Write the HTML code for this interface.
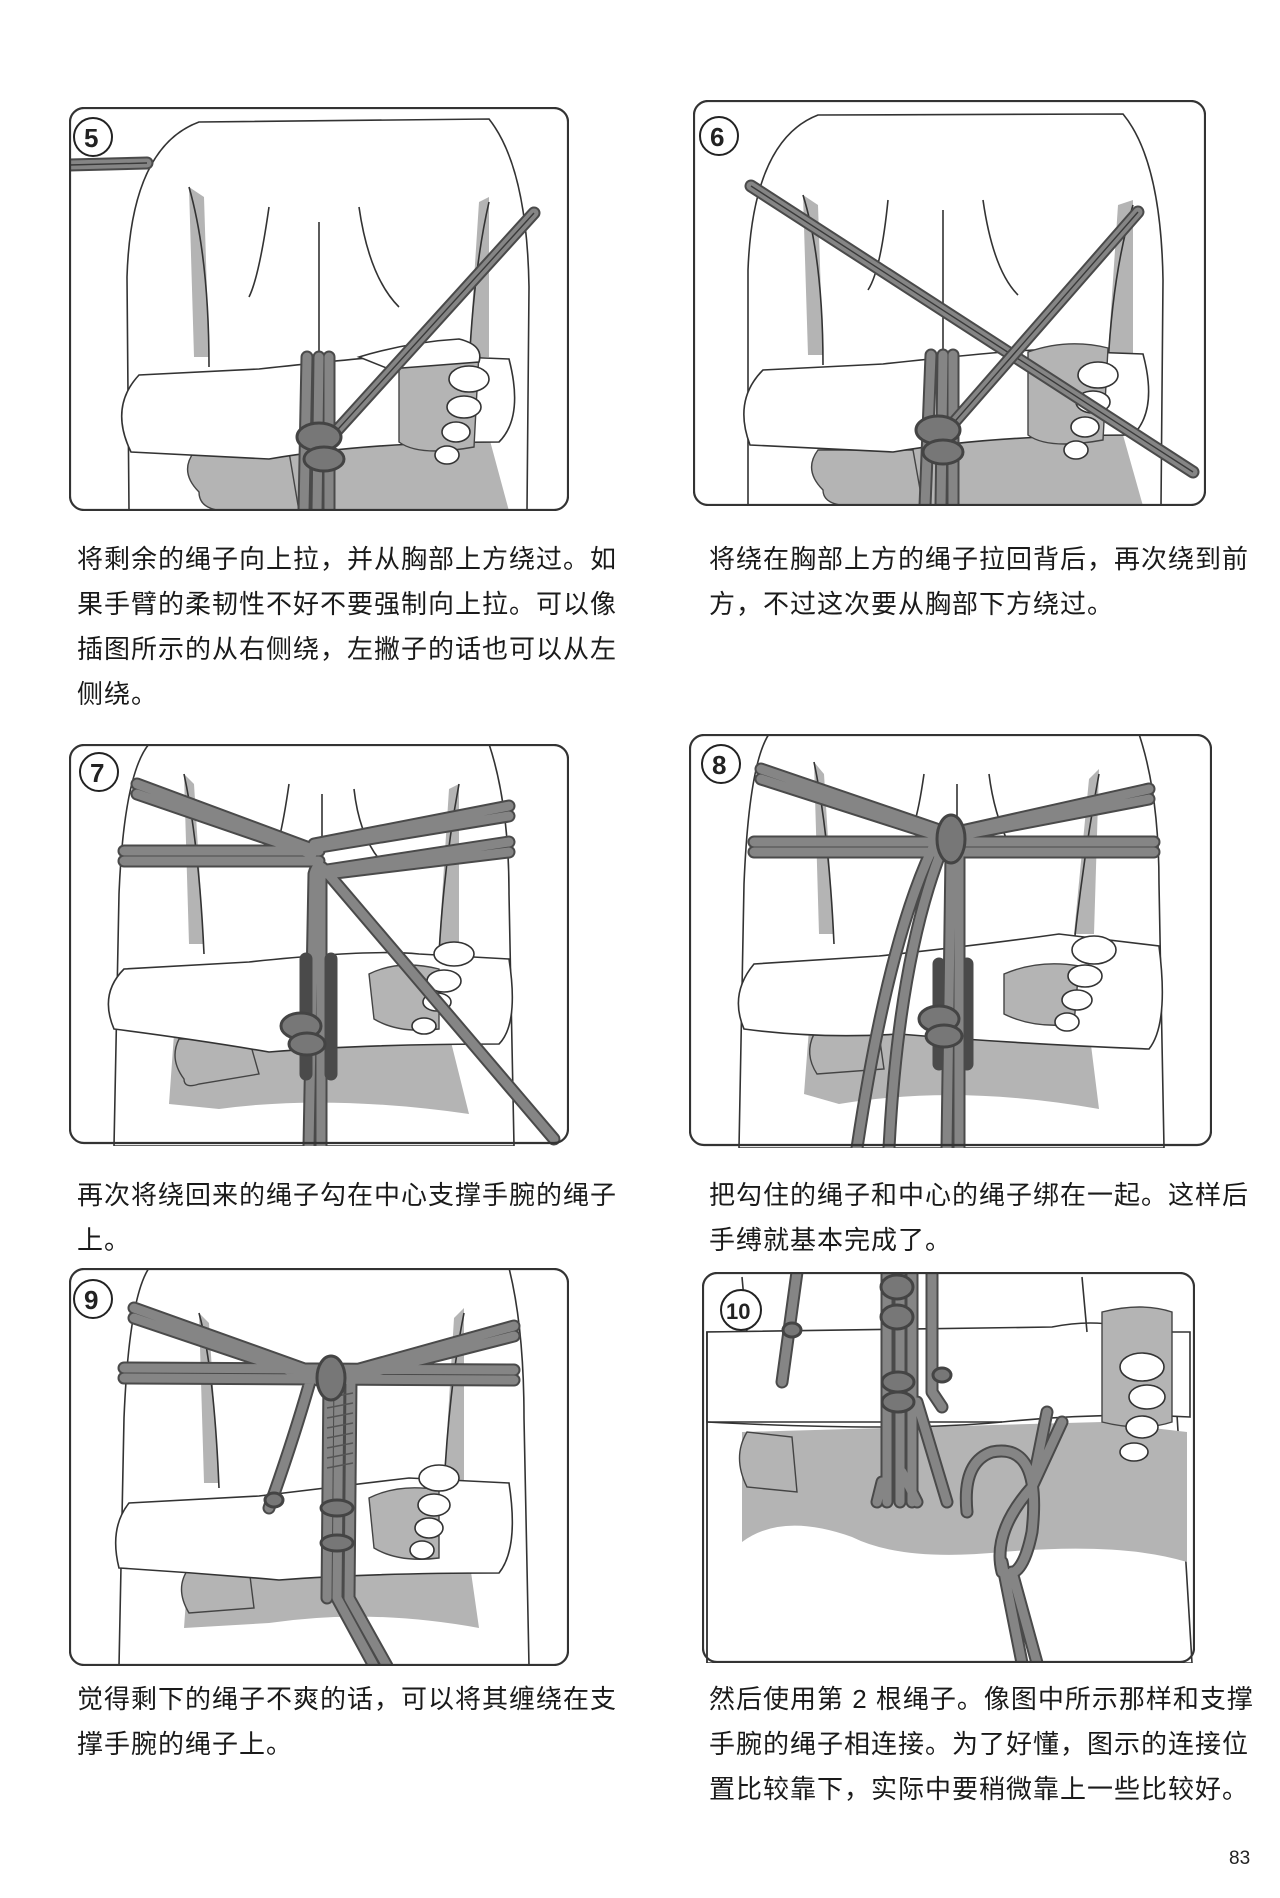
<!DOCTYPE html>
<html><head><meta charset="utf-8"><style>
body{margin:0;background:#fff;}
#p{position:relative;width:1280px;height:1898px;overflow:hidden;background:#fff;font-family:"Liberation Sans","Noto Sans CJK SC",sans-serif;}
svg.pn{position:absolute;}
.cap{position:absolute;font-size:26px;line-height:45px;color:#1a1a1a;letter-spacing:1px;white-space:nowrap;}
.o{fill:none;stroke:#333;stroke-width:1.6;}
.w{fill:#fff;stroke:#333;stroke-width:1.6;}
.g{fill:#b4b4b4;stroke:none;}
.gh{fill:#b4b4b4;stroke:#444;stroke-width:1.4;}
.r{fill:none;stroke:#4a4a4a;stroke-width:13;stroke-linecap:round;stroke-linejoin:round;}
.ri{fill:none;stroke:#858585;stroke-width:9;stroke-linecap:round;stroke-linejoin:round;}
.rc{fill:none;stroke:#3a3a3a;stroke-width:1.4;}
.frame{fill:none;stroke:#333;stroke-width:2.2;}
.num{font-family:"Liberation Sans",sans-serif;font-weight:bold;font-size:26px;fill:#222;}
</style></head><body><div id="p">

<!-- Panel 5 -->
<svg class="pn" style="left:69px;top:107px" width="500" height="404" viewBox="0 0 500 404">
<path class="w" d="M60,404 L58,170 Q62,40 130,15 L420,12 Q458,60 460,180 L458,404Z"/>
<path class="g" d="M120,80 L135,90 L140,250 L125,250Z M420,90 L410,95 L400,250 L420,250Z"/>
<path class="o" d="M120,80 Q140,150 140,260 M420,95 Q405,160 400,260 M200,100 Q190,170 180,190 M250,115 L250,260 M290,100 Q300,170 330,200"/>
<path class="g" d="M150,330 L420,330 L440,404 L170,404Z"/>
<path class="gh" d="M125,345 Q110,365 130,385 Q130,404 160,404 L230,404 L220,345Z"/>
<path class="w" d="M62,345 Q40,300 70,268 L190,262 Q300,250 340,248 L440,252 Q455,310 430,335 Q300,335 200,352 Z"/>
<path class="gh" d="M330,250 Q370,235 410,245 L405,340 Q350,350 330,335Z"/>
<path class="w" d="M290,250 Q340,235 390,232 Q415,238 410,255 L320,262Z"/>
<ellipse class="w" cx="400" cy="272" rx="20" ry="13"/><ellipse class="w" cx="395" cy="300" rx="17" ry="11"/><ellipse class="w" cx="387" cy="325" rx="14" ry="10"/><ellipse class="w" cx="378" cy="348" rx="12" ry="9"/>
<g><path class="r" d="M0,58 L78,56"/><path class="ri" d="M0,58 L78,56"/><path class="rc" d="M0,58 L78,56"/></g>
<g><path class="r" d="M235,404 L238,250 M248,404 L250,250 M260,404 L260,250"/><path class="ri" d="M235,404 L238,250 M248,404 L250,250 M260,404 L260,250"/></g>
<g><path class="r" d="M262,330 L465,106"/><path class="ri" d="M262,330 L465,106"/><path class="rc" d="M262,330 L465,106"/></g>
<ellipse cx="250" cy="330" rx="22" ry="14" fill="#777" stroke="#444" stroke-width="3"/><ellipse cx="255" cy="352" rx="20" ry="12" fill="#777" stroke="#444" stroke-width="3"/>
<rect class="frame" x="1" y="1" width="498" height="402" rx="14"/>
<circle cx="24" cy="30" r="19" fill="#fff" stroke="#222" stroke-width="2"/><text class="num" x="15" y="40">5</text>
</svg>

<!-- Panel 6 -->
<svg class="pn" style="left:693px;top:100px" width="513" height="406" viewBox="0 0 513 406">
<path class="w" d="M55,406 L55,170 Q60,40 125,15 L430,14 Q468,60 470,180 L468,406Z"/>
<path class="g" d="M110,95 L125,105 L130,255 L115,255Z M440,100 L425,105 L415,255 L440,255Z"/>
<path class="o" d="M110,95 Q130,160 130,265 M440,105 Q420,170 415,265 M195,100 Q188,170 175,190 M250,110 L250,265 M290,100 Q300,170 325,195"/>
<path class="g" d="M150,335 L430,335 L450,406 L170,406Z"/>
<path class="gh" d="M125,350 Q110,370 130,390 Q130,406 160,406 L230,406 L220,350Z"/>
<path class="w" d="M57,345 Q40,300 70,270 L190,264 Q300,252 340,250 L450,254 Q465,310 440,335 Q300,335 200,352 Z"/>
<path class="gh" d="M335,252 Q375,238 415,248 L410,340 Q355,350 335,335Z"/>
<ellipse class="w" cx="405" cy="275" rx="20" ry="13"/><ellipse class="w" cx="400" cy="302" rx="17" ry="11"/><ellipse class="w" cx="392" cy="327" rx="14" ry="10"/><ellipse class="w" cx="383" cy="350" rx="12" ry="9"/>
<g><path class="r" d="M232,406 L238,255 M248,406 L250,255 M260,406 L260,255"/><path class="ri" d="M232,406 L238,255 M248,406 L250,255 M260,406 L260,255"/></g>
<g><path class="r" d="M58,86 L500,372"/><path class="ri" d="M58,86 L500,372"/><path class="rc" d="M58,86 L500,372"/></g>
<g><path class="r" d="M250,335 L445,112"/><path class="ri" d="M250,335 L445,112"/><path class="rc" d="M250,335 L445,112"/></g>
<ellipse cx="245" cy="330" rx="22" ry="14" fill="#777" stroke="#444" stroke-width="3"/><ellipse cx="250" cy="352" rx="20" ry="12" fill="#777" stroke="#444" stroke-width="3"/>
<rect class="frame" x="1" y="1" width="511" height="404" rx="14"/>
<circle cx="26" cy="36" r="19" fill="#fff" stroke="#222" stroke-width="2"/><text class="num" x="17" y="46">6</text>
</svg>

<div class="cap" style="left:77px;top:537px">将剩余的绳子向上拉，并从胸部上方绕过。如<br>果手臂的柔韧性不好不要强制向上拉。可以像<br>插图所示的从右侧绕，左撇子的话也可以从左<br>侧绕。</div>
<div class="cap" style="left:709px;top:537px">将绕在胸部上方的绳子拉回背后，再次绕到前<br>方，不过这次要从胸部下方绕过。</div>

<!-- Panel 7 -->
<svg class="pn" style="left:69px;top:744px" width="500" height="402" viewBox="0 0 500 402">
<path class="w" d="M45,402 L50,150 Q55,30 80,0 L420,0 Q440,60 440,150 L445,402Z"/>
<path class="g" d="M115,30 L125,40 L135,200 L120,200Z M390,40 L380,45 L370,200 L390,200Z"/>
<path class="o" d="M115,30 Q130,100 135,210 M390,40 Q375,120 370,210 M220,40 Q215,75 210,95 M253,50 L253,215 M285,45 Q290,90 310,115"/>
<path class="g" d="M105,290 L380,290 L400,370 Q260,350 150,365 L100,360Z"/>
<path class="gh" d="M110,295 Q100,315 115,335 Q115,345 130,340 L190,330 L180,295Z"/>
<path class="w" d="M45,285 Q30,250 55,225 L180,218 Q300,205 350,210 L440,215 Q450,280 430,300 Q300,300 200,308 Q130,296 45,285Z"/>
<path class="gh" d="M300,230 Q330,215 370,225 L370,285 Q330,290 305,275Z"/>
<ellipse class="w" cx="385" cy="210" rx="20" ry="12"/><ellipse class="w" cx="375" cy="237" rx="17" ry="11"/><ellipse class="w" cx="368" cy="258" rx="14" ry="9"/><ellipse class="w" cx="355" cy="282" rx="12" ry="8"/>
<g>
<path class="r" d="M68,40 L243,105 M68,50 L243,110 M55,107 L250,107 M55,117 L250,117 M245,100 L440,62 M245,104 L440,72 M258,130 L440,108 M258,126 L440,98 M240,402 L245,130 Q248,118 255,125 L485,395 M252,402 L252,130"/>
<path class="ri" d="M68,40 L243,105 M68,50 L243,110 M55,107 L250,107 M55,117 L250,117 M245,100 L440,62 M245,104 L440,72 M258,130 L440,108 M258,126 L440,98 M240,402 L245,130 Q248,118 255,125 L485,395 M252,402 L252,130"/>
<path class="r" d="M237,215 L237,330 M262,215 L262,330"/>
</g>
<ellipse cx="232" cy="282" rx="20" ry="13" fill="#777" stroke="#444" stroke-width="3"/><ellipse cx="238" cy="300" rx="18" ry="11" fill="#777" stroke="#444" stroke-width="3"/>
<rect class="frame" x="1" y="1" width="498" height="398" rx="14"/>
<circle cx="30" cy="28" r="19" fill="#fff" stroke="#222" stroke-width="2"/><text class="num" x="21" y="38">7</text>
</svg>

<!-- Panel 8 -->
<svg class="pn" style="left:689px;top:734px" width="523" height="414" viewBox="0 0 523 414">
<path class="w" d="M50,414 L55,150 Q60,30 80,0 L450,0 Q470,60 470,150 L475,414Z"/>
<path class="g" d="M125,28 L135,40 L145,200 L130,200Z M410,35 L400,45 L385,200 L405,200Z"/>
<path class="o" d="M125,28 Q140,100 145,210 M410,40 Q395,120 385,210 M235,40 Q230,75 225,90 M268,50 L268,215 M300,40 Q305,80 320,110"/>
<path class="g" d="M120,295 L400,295 L410,375 Q270,350 150,370 L115,360Z"/>
<path class="gh" d="M125,300 Q115,320 128,340 L195,335 L190,300Z"/>
<path class="w" d="M55,295 Q40,260 65,230 L190,222 Q300,210 370,200 L470,212 Q480,290 460,315 Q330,310 210,300 Q130,305 55,295Z"/>
<path class="gh" d="M315,240 Q350,225 390,232 L385,290 Q345,295 315,280Z"/>
<ellipse class="w" cx="405" cy="216" rx="22" ry="14"/><ellipse class="w" cx="396" cy="242" rx="17" ry="11"/><ellipse class="w" cx="388" cy="266" rx="15" ry="10"/><ellipse class="w" cx="378" cy="288" rx="12" ry="9"/>
<g>
<path class="r" d="M72,35 L262,100 M72,45 L262,106 M65,108 L465,108 M65,118 L465,118 M268,98 L460,55 M268,102 L460,65 M200,414 Q210,220 255,110 M168,414 Q200,200 248,105 M258,414 L262,120 M270,414 L270,120 M250,230 L250,330 M278,230 L278,330"/>
<path class="ri" d="M72,35 L262,100 M72,45 L262,106 M65,108 L465,108 M65,118 L465,118 M268,98 L460,55 M268,102 L460,65 M200,414 Q210,220 255,110 M168,414 Q200,200 248,105 M258,414 L262,120 M270,414 L270,120"/>
</g>
<ellipse cx="262" cy="105" rx="14" ry="24" fill="#777" stroke="#444" stroke-width="3"/>
<ellipse cx="250" cy="285" rx="20" ry="13" fill="#777" stroke="#444" stroke-width="3"/><ellipse cx="255" cy="302" rx="18" ry="11" fill="#777" stroke="#444" stroke-width="3"/>
<rect class="frame" x="1" y="1" width="521" height="410" rx="14"/>
<circle cx="32" cy="30" r="19" fill="#fff" stroke="#222" stroke-width="2"/><text class="num" x="23" y="40">8</text>
</svg>

<div class="cap" style="left:77px;top:1173px">再次将绕回来的绳子勾在中心支撑手腕的绳子<br>上。</div>
<div class="cap" style="left:709px;top:1173px">把勾住的绳子和中心的绳子绑在一起。这样后<br>手缚就基本完成了。</div>

<!-- Panel 9 -->
<svg class="pn" style="left:69px;top:1268px" width="500" height="398" viewBox="0 0 500 398">
<path class="w" d="M50,398 L55,150 Q60,30 80,0 L440,0 Q455,60 455,150 L460,398Z"/>
<path class="g" d="M130,45 L140,55 L150,215 L135,215Z M395,40 L385,50 L375,215 L395,215Z"/>
<path class="o" d="M130,45 Q145,100 150,220 M395,45 Q380,120 375,220"/>
<path class="g" d="M120,290 L400,290 L410,360 Q300,340 200,355 L115,360Z"/>
<path class="gh" d="M120,300 Q105,320 120,345 L185,340 L180,300Z"/>
<path class="w" d="M50,300 Q40,260 60,235 L190,228 Q300,215 340,210 L440,215 Q450,280 430,305 Q300,305 210,312 Q130,305 50,300Z"/>
<path class="gh" d="M300,230 Q330,215 370,222 L370,290 Q330,295 305,280Z"/>
<ellipse class="w" cx="370" cy="210" rx="20" ry="13"/><ellipse class="w" cx="365" cy="237" rx="16" ry="11"/><ellipse class="w" cx="360" cy="260" rx="14" ry="10"/><ellipse class="w" cx="353" cy="282" rx="12" ry="9"/>
<g>
<path class="r" d="M65,40 L255,108 M65,50 L255,114 M55,100 L445,102 M55,110 L445,112 M265,108 L445,58 M265,114 L445,68 M242,110 Q225,170 200,240 M260,110 L258,330 M270,110 L268,330 M282,110 L280,330 M268,330 L305,398 M280,330 L318,398"/>
<path class="ri" d="M65,40 L255,108 M65,50 L255,114 M55,100 L445,102 M55,110 L445,112 M265,108 L445,58 M265,114 L445,68 M242,110 Q225,170 200,240 M260,110 L258,330 M270,110 L268,330 M282,110 L280,330 M268,330 L305,398 M280,330 L318,398"/>
</g>
<g stroke="#555" stroke-width="1.5"><path d="M258,130 L284,125 M258,140 L284,135 M258,150 L284,145 M258,160 L284,155 M258,170 L284,165 M258,180 L284,175 M258,190 L284,185 M258,200 L284,195"/></g>
<ellipse cx="262" cy="110" rx="14" ry="22" fill="#777" stroke="#444" stroke-width="3"/>
<ellipse cx="205" cy="232" rx="9" ry="7" fill="#777" stroke="#444" stroke-width="3"/>
<ellipse cx="268" cy="240" rx="16" ry="8" fill="#777" stroke="#444" stroke-width="3"/><ellipse cx="268" cy="275" rx="16" ry="8" fill="#777" stroke="#444" stroke-width="3"/>
<rect class="frame" x="1" y="1" width="498" height="396" rx="14"/>
<circle cx="24" cy="31" r="19" fill="#fff" stroke="#222" stroke-width="2"/><text class="num" x="15" y="41">9</text>
</svg>

<!-- Panel 10 -->
<svg class="pn" style="left:702px;top:1272px" width="493" height="391" viewBox="0 0 493 391">
<path class="w" d="M5,391 L5,60 L470,60 L490,391Z"/>
<path class="g" d="M40,160 L400,150 L485,160 L485,290 Q420,270 300,280 Q200,290 150,265 Q80,240 40,270Z"/>
<path class="w" d="M5,60 L350,55 Q400,45 440,60 L488,60 L488,145 Q400,140 300,150 Q200,160 5,150Z"/>
<path class="gh" d="M400,40 Q440,30 470,40 L470,150 Q440,160 400,150Z"/>
<ellipse class="w" cx="440" cy="95" rx="22" ry="14"/><ellipse class="w" cx="445" cy="125" rx="18" ry="12"/><ellipse class="w" cx="440" cy="155" rx="16" ry="11"/><ellipse class="w" cx="432" cy="180" rx="14" ry="9"/>
<path class="gh" d="M45,160 Q30,185 45,215 L95,220 L90,165Z"/>
<path class="o" d="M5,60 L5,391 M40,5 L45,60 M380,5 L385,60 M5,150 L300,150"/>
<g>
<path class="r" d="M95,0 L80,110 M185,0 L185,230 M198,0 L198,230 M210,0 L210,230 M230,0 L230,120 L240,135 M180,210 L175,230 M200,200 L215,230 M215,130 L245,230 M265,240 Q260,190 290,180 Q340,170 330,260 Q320,310 300,300 Q290,260 330,215 L360,150 M310,300 L335,391 M300,290 L320,391 M330,215 L345,140"/>
<path class="ri" d="M95,0 L80,110 M185,0 L185,230 M198,0 L198,230 M210,0 L210,230 M230,0 L230,120 L240,135 M180,210 L175,230 M200,200 L215,230 M215,130 L245,230 M265,240 Q260,190 290,180 Q340,170 330,260 Q320,310 300,300 Q290,260 330,215 L360,150 M310,300 L335,391 M300,290 L320,391 M330,215 L345,140"/>
</g>
<ellipse cx="195" cy="15" rx="16" ry="12" fill="#777" stroke="#444" stroke-width="3"/><ellipse cx="195" cy="45" rx="16" ry="12" fill="#777" stroke="#444" stroke-width="3"/>
<ellipse cx="196" cy="110" rx="16" ry="10" fill="#777" stroke="#444" stroke-width="3"/><ellipse cx="196" cy="130" rx="16" ry="10" fill="#777" stroke="#444" stroke-width="3"/>
<ellipse cx="90" cy="58" rx="9" ry="7" fill="#777" stroke="#444" stroke-width="3"/><ellipse cx="240" cy="103" rx="9" ry="7" fill="#777" stroke="#444" stroke-width="3"/>
<rect class="frame" x="1" y="1" width="491" height="389" rx="14"/>
<circle cx="39" cy="38" r="20" fill="#fff" stroke="#222" stroke-width="2"/><text class="num" x="24" y="47" style="font-size:22px">10</text>
</svg>

<div class="cap" style="left:77px;top:1677px">觉得剩下的绳子不爽的话，可以将其缠绕在支<br>撑手腕的绳子上。</div>
<div class="cap" style="left:709px;top:1677px">然后使用第 2 根绳子。像图中所示那样和支撑<br>手腕的绳子相连接。为了好懂，图示的连接位<br>置比较靠下，实际中要稍微靠上一些比较好。</div>

<div style="position:absolute;left:1229px;top:1848px;font-size:19px;color:#222;">83</div>
</div></body></html>
